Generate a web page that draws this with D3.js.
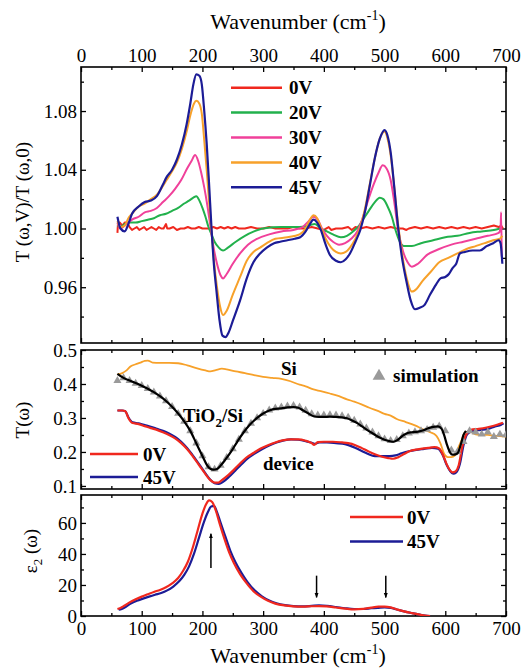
<!DOCTYPE html>
<html><head><meta charset="utf-8">
<script src="https://cdn.jsdelivr.net/npm/d3@7/dist/d3.min.js"></script>
<style>
html,body{margin:0;padding:0;background:#fff;}
</style></head>
<body>
<svg id="chart" width="524" height="669" font-family="'Liberation Serif', 'Times New Roman', Times, 'DejaVu Serif', serif"></svg>
<script>
// ---------- DATA ----------
const X_TICKS = [0,100,200,300,400,500,600,700];
const X_MINOR = [50,150,250,350,450,550,650];
const TOP_Y_TICKS = [0.96,1.00,1.04,1.08];
const TOP_Y_MINOR = [0.94,0.98,1.02,1.06,1.10];
const MID_Y_TICKS = [0.1,0.2,0.3,0.4,0.5];
const MID_Y_MINOR = [0.15,0.25,0.35,0.45];
const BOT_Y_TICKS = [0,20,40,60];
const BOT_Y_MINOR = [10,30,50,70];

const V0 = [[60,0.997],[61,1.004],[64,1.004],[68,1.002],[72,1.004],[76,1.004],[80,1.001],[84,0.999],[88,1.000],[92,1.001],[96,0.999],[100,1.000],[104,1.001],[108,0.999],[112,1.000],[116,1.001],[120,1.000],[124,0.999],[128,1.001],[132,1.000],[136,1.000],[140,1.003],[142,1.000],[146,1.000],[152,1.001],[158,0.999],[164,1.000],[170,1.000],[176,1.001],[182,1.000],[188,1.000],[194,1.001],[200,1.000],[206,1.000],[212,1.000],[218,1.001],[224,1.000],[230,1.001],[236,1.000],[242,1.001],[248,1.000],[254,1.001],[260,1.000],[270,1.000],[280,1.001],[290,1.000],[300,1.000],[310,1.001],[320,1.000],[330,1.000],[340,1.000],[350,1.001],[360,1.000],[370,1.000],[380,1.001],[390,1.000],[400,0.999],[408,1.001],[412,0.999],[420,1.000],[430,1.000],[440,1.001],[446,0.999],[452,1.001],[460,1.000],[470,1.001],[480,1.000],[490,1.001],[500,1.000],[510,1.001],[520,1.000],[530,1.000],[536,0.999],[540,1.000],[550,1.001],[560,1.000],[570,1.001],[580,1.000],[590,1.001],[600,1.000],[610,1.001],[620,1.000],[630,1.001],[640,1.000],[650,1.001],[660,1.000],[670,1.001],[680,1.002],[688,1.001],[692,1.002],[695,1.000]];
const V20 = [[60,1.002],[65,1.001],[72,1.003],[80,1.004],[90,1.004],[100,1.005],[110,1.006],[120,1.007],[130,1.009],[140,1.010],[150,1.012],[160,1.014],[170,1.017],[178,1.019],[185,1.021],[190,1.022],[195,1.019],[200,1.014],[205,1.008],[210,1.001],[215,0.996],[220,0.991],[227,0.987],[234,0.985],[242,0.987],[255,0.991],[270,0.995],[285,0.998],[300,1.000],[330,1.001],[360,1.001],[375,1.002],[385,1.003],[395,1.000],[405,0.998],[415,0.996],[428,0.994],[438,0.995],[448,0.998],[458,1.002],[466,1.007],[474,1.012],[484,1.018],[492,1.021],[498,1.020],[505,1.015],[512,1.008],[518,0.999],[524,0.992],[532,0.988],[545,0.988],[560,0.990],[580,0.992],[600,0.994],[620,0.995],[640,0.997],[660,0.998],[680,0.999],[690,1.000]];
const V30 = [[60,1.004],[65,1.000],[72,1.002],[78,1.004],[84,1.006],[95,1.008],[105,1.011],[115,1.012],[125,1.014],[135,1.018],[145,1.022],[155,1.027],[165,1.033],[175,1.041],[182,1.046],[188,1.050],[193,1.046],[198,1.038],[203,1.028],[208,1.016],[213,1.002],[218,0.988],[224,0.976],[230,0.968],[234,0.966],[240,0.969],[250,0.976],[262,0.983],[275,0.989],[290,0.993],[310,0.996],[330,0.998],[350,0.999],[365,1.001],[375,1.005],[383,1.008],[390,1.006],[397,1.000],[405,0.995],[415,0.991],[425,0.989],[435,0.990],[445,0.993],[455,0.998],[463,1.006],[472,1.018],[482,1.030],[490,1.038],[497,1.043],[503,1.041],[510,1.033],[516,1.018],[522,1.000],[530,0.985],[538,0.977],[545,0.974],[555,0.976],[570,0.982],[590,0.986],[610,0.989],[630,0.991],[650,0.993],[670,0.995],[688,0.997],[691,1.000],[692,1.011],[693,0.981]];
const V40 = [[60,1.005],[65,1.001],[72,1.002],[78,1.007],[84,1.010],[95,1.015],[105,1.017],[115,1.020],[125,1.023],[135,1.029],[141,1.033],[150,1.039],[158,1.045],[166,1.054],[174,1.066],[180,1.077],[186,1.085],[190,1.087],[195,1.085],[199,1.078],[203,1.060],[207,1.040],[211,1.018],[215,0.998],[219,0.978],[224,0.960],[229,0.947],[234,0.941],[240,0.944],[250,0.955],[262,0.967],[273,0.978],[284,0.984],[295,0.987],[306,0.990],[320,0.993],[340,0.994],[360,0.996],[370,1.000],[377,1.006],[383,1.009],[389,1.007],[395,1.001],[403,0.993],[412,0.987],[420,0.984],[428,0.983],[436,0.984],[443,0.987],[452,0.993],[460,1.001],[468,1.014],[476,1.031],[484,1.048],[492,1.061],[500,1.066],[505,1.061],[510,1.050],[516,1.028],[522,1.004],[528,0.985],[536,0.967],[545,0.957],[553,0.959],[562,0.964],[575,0.970],[590,0.977],[605,0.980],[620,0.983],[635,0.986],[650,0.988],[665,0.990],[679,0.992],[690,0.993],[694,0.995]];
const V45 = [[60,1.008],[65,1.000],[72,0.998],[78,1.003],[84,1.010],[95,1.015],[105,1.018],[115,1.019],[125,1.022],[135,1.030],[141,1.035],[150,1.040],[158,1.047],[166,1.057],[174,1.071],[180,1.085],[185,1.098],[190,1.105],[195,1.104],[199,1.098],[203,1.080],[207,1.058],[211,1.030],[215,1.000],[219,0.975],[223,0.958],[228,0.938],[233,0.927],[238,0.926],[243,0.929],[250,0.937],[262,0.951],[273,0.966],[284,0.977],[295,0.983],[306,0.987],[318,0.990],[328,0.991],[340,0.992],[352,0.993],[361,0.994],[370,0.998],[377,1.003],[383,1.006],[389,1.004],[395,0.999],[403,0.989],[410,0.982],[420,0.978],[428,0.977],[436,0.979],[443,0.983],[452,0.991],[460,0.999],[468,1.012],[476,1.030],[484,1.048],[492,1.061],[500,1.067],[505,1.063],[510,1.052],[516,1.028],[522,1.002],[528,0.982],[536,0.964],[543,0.951],[550,0.945],[558,0.946],[566,0.948],[575,0.955],[585,0.962],[592,0.966],[600,0.967],[606,0.969],[612,0.973],[618,0.976],[624,0.983],[632,0.984],[645,0.985],[657,0.985],[668,0.988],[679,0.990],[688,0.992],[691,0.990],[694,0.976]];

const SI = [[60,0.428],[68,0.432],[75,0.440],[82,0.452],[90,0.458],[98,0.463],[105,0.468],[110,0.469],[118,0.463],[130,0.462],[145,0.462],[160,0.461],[175,0.455],[190,0.447],[205,0.440],[213,0.437],[222,0.441],[232,0.445],[240,0.443],[255,0.437],[270,0.432],[285,0.426],[300,0.421],[315,0.418],[330,0.415],[345,0.408],[360,0.398],[370,0.393],[383,0.384],[395,0.379],[410,0.372],[425,0.364],[438,0.355],[450,0.348],[462,0.340],[475,0.330],[490,0.320],[500,0.312],[510,0.307],[520,0.297],[535,0.288],[550,0.278],[564,0.266],[575,0.258],[585,0.248],[592,0.225],[598,0.195],[604,0.185],[610,0.185],[616,0.190],[622,0.215],[628,0.240],[632,0.257],[640,0.260],[650,0.252],[660,0.250],[670,0.250],[680,0.248],[690,0.247],[700,0.245]];
const TIO2_SI = [[60,0.430],[70,0.418],[80,0.410],[90,0.403],[100,0.395],[110,0.386],[120,0.376],[130,0.364],[140,0.350],[150,0.333],[160,0.313],[170,0.290],[180,0.262],[190,0.225],[200,0.188],[207,0.163],[212,0.152],[218,0.148],[224,0.150],[230,0.160],[238,0.178],[248,0.203],[258,0.232],[268,0.258],[278,0.280],[290,0.300],[300,0.313],[310,0.322],[320,0.327],[330,0.328],[340,0.331],[350,0.332],[358,0.330],[366,0.322],[374,0.314],[383,0.305],[392,0.303],[400,0.303],[410,0.304],[420,0.303],[430,0.302],[438,0.299],[446,0.293],[455,0.285],[463,0.275],[471,0.265],[480,0.255],[490,0.244],[500,0.236],[508,0.232],[515,0.230],[522,0.236],[530,0.248],[537,0.255],[545,0.258],[555,0.260],[564,0.264],[572,0.270],[580,0.274],[588,0.275],[594,0.268],[598,0.250],[603,0.220],[608,0.198],[612,0.192],[617,0.193],[621,0.198],[626,0.225],[630,0.250],[634,0.262]];
const SIM_W = [60,70,80,90,100,110,120,130,140,150,160,170,180,190,200,210,220,230,240,250,260,270,280,290,300,310,320,330,340,350,360,370,380,390,400,410,420,430,440,450,460,470,480,490,500,510,520,530,540,550,560,570,580,590,600,610,620,630,640,650,660,670,680,690,700];
const SIM_T = [0.410,0.418,0.410,0.402,0.395,0.386,0.376,0.364,0.350,0.333,0.313,0.290,0.262,0.226,0.188,0.156,0.149,0.160,0.183,0.209,0.237,0.262,0.284,0.300,0.313,0.323,0.329,0.332,0.335,0.336,0.332,0.322,0.312,0.308,0.308,0.309,0.308,0.306,0.302,0.293,0.282,0.270,0.258,0.247,0.238,0.233,0.236,0.247,0.255,0.259,0.262,0.266,0.272,0.276,0.262,0.205,0.200,0.230,0.262,0.258,0.252,0.258,0.245,0.252,0.250];
const DEV_0V = [[60,0.322],[68,0.322],[73,0.320],[78,0.300],[85,0.285],[95,0.282],[105,0.276],[115,0.270],[125,0.265],[135,0.258],[145,0.250],[155,0.240],[165,0.226],[175,0.208],[185,0.185],[195,0.160],[205,0.135],[213,0.117],[220,0.110],[226,0.110],[232,0.117],[242,0.131],[252,0.148],[262,0.166],[272,0.183],[284,0.197],[296,0.210],[308,0.220],[320,0.228],[332,0.234],[345,0.237],[358,0.237],[370,0.233],[380,0.226],[384,0.221],[390,0.229],[400,0.230],[415,0.230],[430,0.228],[440,0.226],[452,0.220],[462,0.212],[472,0.203],[484,0.193],[496,0.186],[506,0.182],[514,0.180],[522,0.184],[532,0.194],[542,0.203],[552,0.207],[562,0.210],[572,0.212],[582,0.214],[590,0.210],[597,0.188],[602,0.165],[607,0.148],[612,0.140],[617,0.143],[622,0.160],[628,0.215],[634,0.250],[642,0.265],[655,0.268],[668,0.272],[680,0.277],[690,0.283],[695,0.286]];
const DEV_45V = [[60,0.322],[68,0.322],[73,0.320],[78,0.302],[85,0.287],[95,0.284],[105,0.279],[115,0.274],[125,0.268],[135,0.262],[145,0.254],[155,0.244],[165,0.230],[175,0.211],[185,0.188],[195,0.163],[205,0.137],[213,0.118],[220,0.108],[227,0.106],[234,0.112],[244,0.127],[254,0.145],[264,0.163],[274,0.180],[286,0.195],[298,0.208],[310,0.219],[322,0.228],[334,0.234],[346,0.237],[358,0.236],[370,0.232],[380,0.227],[386,0.224],[392,0.228],[405,0.228],[420,0.226],[435,0.223],[448,0.215],[460,0.205],[472,0.195],[484,0.188],[496,0.188],[508,0.188],[518,0.190],[528,0.196],[540,0.202],[552,0.206],[565,0.209],[578,0.212],[588,0.210],[596,0.190],[602,0.163],[608,0.144],[613,0.136],[618,0.140],[624,0.165],[630,0.220],[636,0.252],[645,0.262],[658,0.265],[670,0.268],[682,0.275],[692,0.280],[696,0.284]];

const EPS_0V = [[60,4.5],[65,5.2],[72,6.8],[80,8.8],[90,10.8],[100,12.5],[110,14.0],[120,15.5],[130,16.8],[140,18.5],[150,21.0],[160,24.5],[168,29],[176,35],[184,44],[192,55],[200,66],[206,72],[211,74.5],[216,73.5],[222,68],[228,60],[236,50],[244,41],[252,34],[262,27],[272,21.5],[284,16],[296,12.5],[308,9.8],[320,8],[335,6.8],[350,6.2],[365,6.0],[380,6.3],[392,6.4],[405,6.2],[420,5.5],[435,4.8],[450,4.3],[465,4.6],[478,5.4],[490,6.0],[500,6.1],[510,5.6],[520,4.3],[532,3.0],[545,1.9],[558,0.9],[570,0.1],[575,0]];
const EPS_45V = [[62,4.0],[67,4.6],[74,6.0],[82,8.0],[92,9.8],[102,11.2],[112,12.5],[122,13.7],[132,14.8],[142,16.5],[152,19.0],[162,22.5],[170,26.5],[178,32],[186,40],[194,50],[202,60],[209,67],[214,70.5],[219,71],[224,67],[230,60],[238,51],[246,42],[254,35],[264,28],[274,22],[286,16.5],[298,12.7],[310,10],[322,8.2],[336,7.0],[350,6.4],[365,6.2],[380,6.5],[392,6.8],[405,6.5],[420,5.8],[435,5.0],[450,4.5],[465,4.5],[478,5.0],[490,5.3],[500,5.5],[510,5.2],[520,4.2],[532,3.0],[545,1.9],[558,0.9],[570,0.1],[575,0]];
const ARROW_W = [214, 388, 502];
const ARROW_FROM = [31, 26, 26];
const ARROW_TO = [53, 12, 12];

const TOP_LEGEND = ["0V","20V","30V","40V","45V"];
const BOT_LEGEND = ["0V","45V"];

// ---------- STYLE ----------
const SERIF = "'Liberation Serif', 'Times New Roman', Times, 'DejaVu Serif', serif";
const C_RED = "#f0281e", C_GREEN = "#22b14c", C_PINK = "#f0409a", C_ORANGE = "#f7a12a", C_BLUE = "#1c1c96";
const svg = d3.select("#chart");
const FONT = 19;
const x = d3.scaleLinear().domain([0,700]).range([81,506]);
const panels = {
  top: {y: d3.scaleLinear().domain([0.922,1.11]).range([343,67])},
  mid: {y: d3.scaleLinear().domain([0.091,0.5]).range([489,350])},
  bot: {y: d3.scaleLinear().domain([0,78]).range([616,495])}
};
const defs = svg.append("defs");
Object.entries(panels).forEach(([k,p])=>{
  defs.append("clipPath").attr("id","clip-"+k).append("rect")
    .attr("x",x.range()[0]).attr("y",p.y.range()[1])
    .attr("width",x.range()[1]-x.range()[0]).attr("height",p.y.range()[0]-p.y.range()[1]);
});
defs.append("marker").attr("id","arrowhead").attr("viewBox","0 0 10 10").attr("refX",9).attr("refY",5)
  .attr("markerWidth",5).attr("markerHeight",7).attr("markerUnits","userSpaceOnUse").attr("orient","auto")
  .append("path").attr("d","M0,1 L10,5 L0,9 Z").attr("fill","#000");

function drawAxes(p, opts){
  const y = p.y;
  const [yb, yt] = y.range();
  const g = svg.append("g");
  const fmt = opts.yFmt;
  g.append("g").attr("transform",`translate(0,${yb})`)
    .call(d3.axisBottom(x).tickValues(X_TICKS).tickSize(-5).tickPadding(6).tickFormat(opts.bottomLabels? d3.format("d") : ""));
  g.append("g").attr("transform",`translate(0,${yb})`).call(d3.axisBottom(x).tickValues(X_MINOR).tickSize(-3).tickFormat(""));
  g.append("g").attr("transform",`translate(0,${yt})`)
    .call(d3.axisTop(x).tickValues(X_TICKS).tickSize(-5).tickPadding(5).tickFormat(opts.topLabels? d3.format("d") : ""));
  g.append("g").attr("transform",`translate(0,${yt})`).call(d3.axisTop(x).tickValues(X_MINOR).tickSize(-3).tickFormat(""));
  g.append("g").attr("transform",`translate(${x.range()[0]},0)`)
    .call(d3.axisLeft(y).tickValues(opts.yTicks).tickSize(-5).tickPadding(4).tickFormat(fmt));
  g.append("g").attr("transform",`translate(${x.range()[0]},0)`).call(d3.axisLeft(y).tickValues(opts.yMinor).tickSize(-3).tickFormat(""));
  g.append("g").attr("transform",`translate(${x.range()[1]},0)`)
    .call(d3.axisRight(y).tickValues(opts.yTicks).tickSize(-5).tickFormat(""));
  g.append("g").attr("transform",`translate(${x.range()[1]},0)`).call(d3.axisRight(y).tickValues(opts.yMinor).tickSize(-3).tickFormat(""));
  g.selectAll(".domain").remove();
  g.selectAll("g").attr("font-family",SERIF).attr("font-size",FONT);
  g.selectAll(".tick line").attr("stroke","#000").attr("stroke-width",1.3);
  g.selectAll(".tick text").attr("font-family",SERIF).attr("font-size",FONT).attr("fill","#000");
  svg.append("rect").attr("x",x.range()[0]).attr("y",yt).attr("width",x.range()[1]-x.range()[0]).attr("height",yb-yt)
    .attr("fill","none").attr("stroke","#000").attr("stroke-width",1.6);
}

drawAxes(panels.top,{topLabels:true, yTicks:TOP_Y_TICKS, yMinor:TOP_Y_MINOR, yFmt:d3.format(".2f")});
drawAxes(panels.mid,{yTicks:MID_Y_TICKS, yMinor:MID_Y_MINOR, yFmt:d3.format(".1f")});
drawAxes(panels.bot,{bottomLabels:true, yTicks:BOT_Y_TICKS, yMinor:BOT_Y_MINOR, yFmt:d3.format("d")});

function curve(panelKey, data, color, width, curveType){
  const y = panels[panelKey].y;
  svg.append("path").datum(data).attr("clip-path",`url(#clip-${panelKey})`)
    .attr("fill","none").attr("stroke",color).attr("stroke-width",width||2).attr("stroke-linejoin","round")
    .attr("d", d3.line().x(d=>x(d[0])).y(d=>y(d[1])).curve(curveType || d3.curveMonotoneX));
}
function label(xp, yp, txt, bold){
  return svg.append("text").attr("x",xp).attr("y",yp).attr("font-family",SERIF).attr("font-size",FONT)
    .attr("font-weight",bold?"bold":"normal").text(txt);
}

// top panel
curve("top", V0, C_RED, 2, d3.curveLinear);
curve("top", V20, C_GREEN, 2);
curve("top", V30, C_PINK, 2);
curve("top", V40, C_ORANGE, 2);
curve("top", V45, C_BLUE, 2.2);

const topColors = [C_RED,C_GREEN,C_PINK,C_ORANGE,C_BLUE];
TOP_LEGEND.forEach((t,i)=>{
  const yy = 87.7 + i*24.9;
  svg.append("line").attr("x1",231).attr("x2",282).attr("y1",yy).attr("y2",yy).attr("stroke",topColors[i]).attr("stroke-width",2.5);
  label(289, yy+6.5, t, true);
});

// middle panel
curve("mid", SI, C_ORANGE, 1.8);
curve("mid", DEV_45V, C_BLUE, 2.2);
curve("mid", DEV_0V, C_RED, 2.2);
const tri = d3.symbol().type(d3.symbolTriangle).size(28);
svg.append("g").attr("clip-path","url(#clip-mid)").selectAll("path").data(SIM_W.map((w,i)=>[w,SIM_T[i]])).join("path")
  .attr("transform",d=>`translate(${x(d[0])},${panels.mid.y(d[1])})`).attr("d",tri).attr("fill","#9a9a9a");
curve("mid", TIO2_SI, "#000", 2.2);

label(281, 375, "Si", true);
svg.append("path").attr("transform","translate(379,376)").attr("d",d3.symbol().type(d3.symbolTriangle).size(70)).attr("fill","#9a9a9a");
label(393, 382, "simulation", true);
const tio = label(183, 422, "", true);
tio.append("tspan").text("TiO");
tio.append("tspan").attr("font-size",13).attr("dy",5).text("2");
tio.append("tspan").attr("dy",-5).text("/Si");
label(263, 470, "device", true);

[["0V",C_RED,454],["45V",C_BLUE,477]].forEach(([t,c,yy])=>{
  svg.append("line").attr("x1",90).attr("x2",138).attr("y1",yy).attr("y2",yy).attr("stroke",c).attr("stroke-width",2.5);
  label(143, yy+7, t, true);
});

// bottom panel
curve("bot", EPS_45V, C_BLUE, 2.2);
curve("bot", EPS_0V, C_RED, 2.2);
ARROW_W.forEach((w,i)=>{
  svg.append("line").attr("x1",x(w)).attr("x2",x(w)).attr("y1",panels.bot.y(ARROW_FROM[i])).attr("y2",panels.bot.y(ARROW_TO[i]))
    .attr("stroke","#000").attr("stroke-width",1.5).attr("marker-end","url(#arrowhead)");
});
const botColors = [C_RED, C_BLUE];
BOT_LEGEND.forEach((t,i)=>{
  const yy = 517 + i*24.5;
  svg.append("line").attr("x1",350).attr("x2",403).attr("y1",yy).attr("y2",yy).attr("stroke",botColors[i]).attr("stroke-width",2.5);
  label(407, yy+6.5, t, true);
});

// titles
function wavTitle(yBase){
  const t = svg.append("text").attr("x",298).attr("y",yBase).attr("text-anchor","middle").attr("font-family",SERIF).attr("font-size",22);
  t.append("tspan").text("Wavenumber (cm");
  t.append("tspan").attr("font-size",14).attr("dy",-9).text("-1");
  t.append("tspan").attr("dy",9).text(")");
}
wavTitle(29);
wavTitle(663);

function yTitle(xp, yp){
  return svg.append("text").attr("transform",`translate(${xp},${yp}) rotate(-90)`).attr("text-anchor","middle")
    .attr("font-family",SERIF).attr("font-size",FONT);
}
yTitle(29,202).text("T (\u03c9,V)/T (\u03c9,0)");
yTitle(29,420).text("T(\u03c9)");
const eps = yTitle(37,551);
eps.append("tspan").text("\u03b5");
eps.append("tspan").attr("font-size",13).attr("dy",5).text("2");
eps.append("tspan").attr("dy",-5).text(" (\u03c9)");
</script>
</body></html>
